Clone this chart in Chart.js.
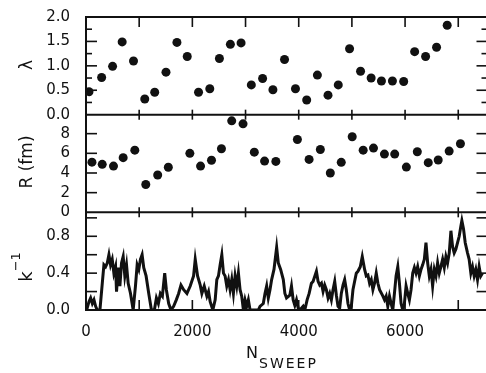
<!DOCTYPE html>
<html>
<head>
<meta charset="utf-8">
<script src="https://cdn.jsdelivr.net/npm/chart.js@4"></script>
<style>
html,body{margin:0;padding:0;background:#fff;overflow:hidden}
#wrap{position:relative;width:492px;height:373px}
</style>
</head>
<body>
<div id="wrap"><canvas id="c" width="492" height="373"></canvas></div>
<script>
// ===== DATA =====
const lamN=[56,294,500,680,893,1105,1292,1504,1710,1904,2116,2328,2509,2715,2916,3109,3321,3515,3733,3939,4150,4351,4551,4744,4956,5163,5362,5556,5762,5974,6180,6386,6592,6792];
const lamV=[0.47,0.76,0.99,1.49,1.10,0.32,0.46,0.87,1.48,1.19,0.46,0.53,1.15,1.44,1.47,0.61,0.74,0.51,1.13,0.53,0.30,0.81,0.40,0.61,1.35,0.89,0.75,0.69,0.69,0.68,1.29,1.19,1.38,1.83];

const radN=[112,305,517,699,918,1124,1348,1548,1953,2154,2360,2547,2740,2953,3165,3358,3570,3975,4195,4407,4594,4800,5006,5212,5406,5612,5805,6024,6230,6436,6623,6829,7041];
const radV=[5.1,4.88,4.7,5.56,6.32,2.83,3.8,4.58,6.0,4.7,5.3,6.46,9.3,9.0,6.12,5.21,5.18,7.4,5.38,6.39,4.0,5.08,7.68,6.32,6.53,5.92,5.92,4.6,6.16,5.05,5.32,6.23,6.97];

const kN=[12,56,87,119,150,181,212,262,306,337,368,400,431,462,493,524,556,574,606,637,668,699,730,762,793,837,887,930,962,993,1024,1055,1086,1130,1180,1230,1286,1324,1361,1399,1436,1480,1511,1555,1598,1648,1698,1742,1786,1836,
  1898,1960,2023,2054,2098,2148,2179,2223,2273,2304,2335,2385,2429,2460,2491,2522,2554,2585,2616,2647,2679,2710,2741,2772,2804,2835,2866,2897,2928,2960,2991,3022,3053,3085,3241,3272,3334,3366,3397,3428,3460,3491,3535,3585,3616,3660,3710,
  3740,3771,3833,3864,3896,3927,3958,3990,4021,4083,4114,4158,4196,4239,4270,4333,4364,4395,4427,4458,4489,4520,4552,4583,4614,4645,4677,4708,4739,4770,4801,4833,4864,4895,4926,4958,4989,5020,5051,5083,5114,5158,5195,5239,5270,5301,5333,5364,5395,5426,5458,5489,5520,5583,
  5613,5644,5675,5707,5738,5769,5800,5831,5863,5894,5925,5956,5987,6019,6050,6081,6112,6144,6175,6206,6237,6269,6300,6331,6362,6393,6425,6456,6487,6518,6550,6581,6612,6643,6674,6706,6737,6768,6799,6831,6862,6893,6924,6955,6987,7018,7049,7068,7099,7131,7174,7205,7237,7268,7299,7330,7362,7393,7424,7455];
const kV=[0,0.09,0.13,0.07,0.11,0.04,0,0,0.29,0.49,0.47,0.51,0.60,0.49,0.55,0.40,0.47,0.20,0.46,0.26,0.51,0.58,0.37,0.49,0.29,0.18,0,0.26,0.49,0.44,0.55,0.60,0.46,0.37,0.18,0,0,0.13,0.07,0.18,0.15,0.40,0.22,0.07,0,0.04,0.11,0.18,0.27,0.22,
  0.18,0.26,0.37,0.55,0.37,0.27,0.18,0.26,0.15,0.20,0.09,0,0.11,0.33,0.37,0.49,0.60,0.40,0.37,0.26,0.33,0.22,0.33,0.18,0.37,0.26,0.40,0.22,0.15,0,0.11,0.04,0.11,0,0,0.04,0.07,0.18,0.26,0.13,0.22,0.33,0.44,0.68,0.51,0.44,0.33,
  0.18,0.13,0.16,0.26,0.11,0.05,0.11,0.02,0,0.04,0,0.11,0.18,0.29,0.31,0.42,0.31,0.27,0.29,0.20,0.27,0.22,0.13,0.18,0.11,0.22,0.31,0.16,0.04,0.02,0.18,0.27,0.33,0.22,0.07,0,0.04,0.22,0.31,0.40,0.42,0.47,0.58,0.44,0.37,0.38,0.29,0.33,0.22,0.29,0.40,0.29,0.22,0.15,
  0.11,0.15,0.04,0.15,0.07,0,0.18,0.37,0.47,0.29,0.07,0,0.07,0.26,0.18,0.11,0.22,0.40,0.46,0.40,0.47,0.37,0.44,0.49,0.55,0.73,0.51,0.37,0.44,0.26,0.44,0.37,0.51,0.40,0.47,0.55,0.46,0.58,0.51,0.62,0.86,0.69,0.62,0.66,0.73,0.80,0.91,0.97,0.88,0.73,0.62,0.55,0.40,0.47,0.37,0.44,0.33,0.47,0.37,0.40];

const xLabels=[0,2000,4000,6000];
const xTickMarks=[1000,2000,3000,4000,5000,6000,7000];
const lamLabels=[0,0.5,1,1.5,2];
const radLabels=[0,2,4,6,8];
const kLabels=[0,0.4,0.8];

// ===== STYLE =====
const ink='#111';
Chart.defaults.font.family="'DejaVu Sans', sans-serif";
Chart.defaults.color=ink;

function fixTicks(list){return s=>{s.ticks=list.map(v=>({value:v}));};}
function yScale(min,max,labels,dec){
  return {type:'linear',position:'left',stack:'panels',stackWeight:1,min:min,max:max,
    grid:{display:false},border:{display:false},
    afterBuildTicks:fixTicks(labels),
    afterFit:s=>{s.width=86;},
    ticks:{font:{size:15},padding:8,autoSkip:false,callback:v=>v.toFixed(dec)}};
}

const pts=(xs,ys)=>xs.map((x,i)=>({x:x,y:ys[i]}));

// ===== FRAME & TICK MARKS =====
const panels=[
  {id:'yL',major:[0.5,1,1.5],minor:[0.25,0.75,1.25,1.75]},
  {id:'yR',major:[2,4,6,8],minor:[]},
  {id:'yK',major:[0.2,0.4,0.6,0.8,1.0],minor:[]}
];
const frame={id:'frame',afterDatasetsDraw(chart){
  const {ctx,chartArea:a,scales}=chart;
  const line=(x1,y1,x2,y2)=>{ctx.beginPath();ctx.moveTo(x1,y1);ctx.lineTo(x2,y2);ctx.stroke();};
  ctx.save();
  ctx.strokeStyle=ink;ctx.lineWidth=2;
  ctx.strokeRect(a.left,a.top,a.right-a.left,a.bottom-a.top);
  const bounds=[scales.yR.top,scales.yK.top];
  bounds.forEach(y=>line(a.left,y,a.right,y));
  ctx.lineWidth=1.6;
  xTickMarks.forEach(v=>{
    const px=scales.x.getPixelForValue(v);
    line(px,a.top,px,a.top+10);
    bounds.forEach(y=>line(px,y-5,px,y+5));
    line(px,a.bottom,px,a.bottom-10);
  });
  panels.forEach(p=>{
    const s=scales[p.id];
    p.major.forEach(v=>{const py=s.getPixelForValue(v);line(a.left,py,a.left+11,py);line(a.right,py,a.right-11,py);});
    p.minor.forEach(v=>{const py=s.getPixelForValue(v);line(a.left,py,a.left+6,py);line(a.right,py,a.right-6,py);});
  });
  // axis titles
  ctx.fillStyle=ink;
  const vtext=(parts,x,y)=>{
    ctx.save();ctx.translate(x,y);ctx.rotate(-Math.PI/2);ctx.textBaseline='alphabetic';
    let w=0;parts.forEach(p=>{ctx.font=p.f;w+=ctx.measureText(p.t).width;});
    let cx=-w/2;
    parts.forEach(p=>{ctx.font=p.f;ctx.fillText(p.t,cx,p.dy||0);cx+=ctx.measureText(p.t).width;});
    ctx.restore();
  };
  vtext([{t:'λ',f:"17px 'DejaVu Sans'"}],32,65);
  vtext([{t:'R (fm)',f:"17px 'DejaVu Sans'"}],32,162);
  vtext([{t:'k',f:"18px 'DejaVu Sans'"},{t:'−1',f:"13px 'DejaVu Sans'",dy:-12}],32,267);
  ctx.font="16px 'DejaVu Sans'";ctx.textBaseline='alphabetic';
  ctx.fillText('N',246,358);
  ctx.font="14px 'DejaVu Sans'";ctx.letterSpacing='2px';
  ctx.fillText('SWEEP',259,368);
  ctx.restore();
}};

new Chart(document.getElementById('c'),{
  type:'scatter',
  data:{datasets:[
    {data:pts(kN,kV),yAxisID:'yK',showLine:true,borderColor:ink,borderWidth:3,pointRadius:0,tension:0},
    {data:pts(radN,radV),yAxisID:'yR',backgroundColor:ink,borderWidth:0,pointRadius:4.5},
    {data:pts(lamN,lamV),yAxisID:'yL',backgroundColor:ink,borderWidth:0,pointRadius:4.5}
  ]},
  options:{
    responsive:false,animation:false,
    layout:{padding:{top:14,right:3,left:0,bottom:0}},
    plugins:{legend:{display:false},tooltip:{enabled:false}},
    scales:{
      x:{type:'linear',position:'bottom',min:0,max:7550,grid:{display:false},border:{display:false},
        afterBuildTicks:fixTicks(xLabels),afterFit:s=>{s.height=63;},
        ticks:{font:{size:15},padding:5,maxRotation:0,autoSkip:false,callback:v=>String(v)}},
      yK:yScale(0,1.06,kLabels,1),
      yR:yScale(0,9.93,radLabels,0),
      yL:yScale(0,2,lamLabels,1)
    }
  },
  plugins:[frame]
});
</script>
</body>
</html>
